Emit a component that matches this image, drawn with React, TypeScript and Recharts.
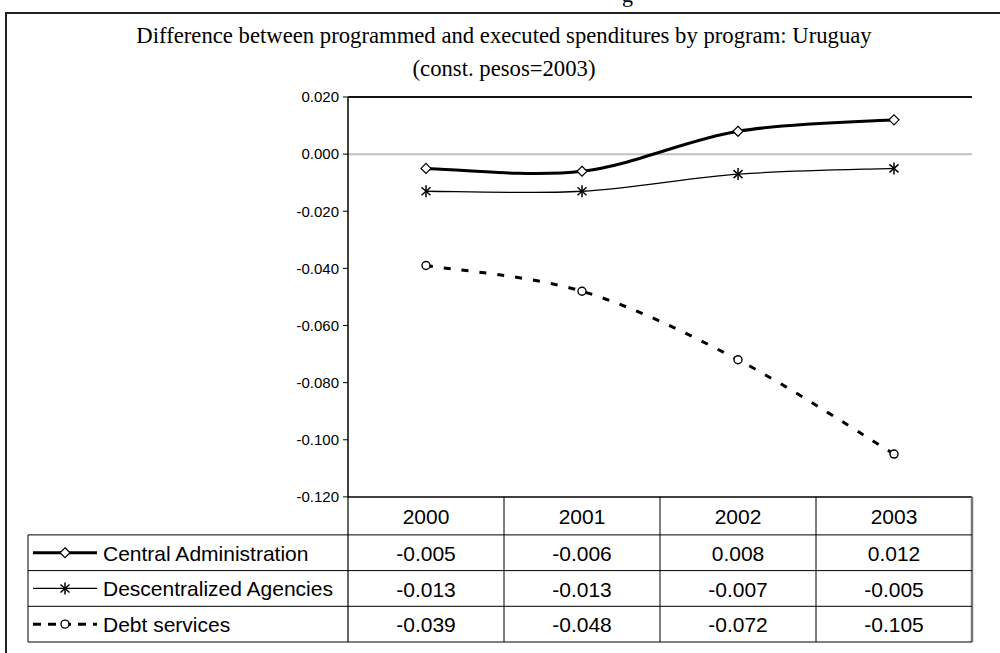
import React from "react";
import { LineChart, Line, XAxis, YAxis, ReferenceLine } from "recharts";

const years = ["2000", "2001", "2002", "2003"];
const centralAdministration = [-0.005, -0.006, 0.008, 0.012];
const descentralizedAgencies = [-0.013, -0.013, -0.007, -0.005];
const debtServices = [-0.039, -0.048, -0.072, -0.105];
const yTicks = [0.02, 0, -0.02, -0.04, -0.06, -0.08, -0.1, -0.12];
const seriesNames = ["Central Administration", "Descentralized Agencies", "Debt services"];
const seriesKeys = ["central", "descentralized", "debt"];

const data = years.map((year, i) => ({
  year,
  central: centralAdministration[i],
  descentralized: descentralizedAgencies[i],
  debt: debtServices[i],
}));

const SANS = "'Liberation Sans', Arial, sans-serif";
const SERIF = "'Liberation Serif', 'Times New Roman', serif";

const HEADER_H = 38;
const ROW_H = 35.7;
const TABLE_H = HEADER_H + ROW_H * 3;
const LEGEND_W = 320;

// Excel-style smoothed line (Catmull-Rom converted to beziers)
const excelSmooth = (context: any) => {
  let pts: number[][] = [];
  return {
    areaStart() {},
    areaEnd() {},
    lineStart() {
      pts = [];
    },
    point(x: number, y: number) {
      pts.push([+x, +y]);
    },
    lineEnd() {
      if (!pts.length) return;
      context.moveTo(pts[0][0], pts[0][1]);
      for (let i = 0; i < pts.length - 1; i++) {
        const p0 = pts[i - 1] || pts[i];
        const p1 = pts[i];
        const p2 = pts[i + 1];
        const p3 = pts[i + 2] || p2;
        context.bezierCurveTo(
          p1[0] + (p2[0] - p0[0]) / 6,
          p1[1] + (p2[1] - p0[1]) / 6,
          p2[0] - (p3[0] - p1[0]) / 6,
          p2[1] - (p3[1] - p1[1]) / 6,
          p2[0],
          p2[1]
        );
      }
    },
  };
};

const Diamond = ({ cx, cy }: any) =>
  cx == null ? null : (
    <polygon
      points={`${cx},${cy - 5} ${cx + 5},${cy} ${cx},${cy + 5} ${cx - 5},${cy}`}
      fill="#fff"
      stroke="#000"
      strokeWidth={1.2}
    />
  );

const Star = ({ cx, cy }: any) =>
  cx == null ? null : (
    <g stroke="#000" strokeWidth={1.5}>
      <line x1={cx - 4.5} y1={cy - 4} x2={cx + 4.5} y2={cy + 4} />
      <line x1={cx - 4.5} y1={cy + 4} x2={cx + 4.5} y2={cy - 4} />
      <line x1={cx} y1={cy - 6} x2={cx} y2={cy + 6} />
    </g>
  );

const Circle = ({ cx, cy }: any) =>
  cx == null ? null : <circle cx={cx} cy={cy} r={4} fill="#fff" stroke="#000" strokeWidth={1.4} />;

const seriesStyles = [
  { width: 3, dash: undefined, Marker: Diamond },
  { width: 1.3, dash: undefined, Marker: Star },
  { width: 3, dash: "7 11", Marker: Circle },
];

const TableTick = (props: any) => {
  const { x, y, payload, index } = props;
  const half = payload.offset || 78;
  const left = x - half;
  const right = x + half;
  const last = index === years.length - 1;
  const rowLines = [0, 1, 2].map((r) => y + HEADER_H + ROW_H * (r + 1));
  const values = seriesKeys.map((k) => (data[index] as any)[k] as number);
  const legLeft = left - LEGEND_W;
  return (
    <g fontFamily={SANS} fontSize={21} fill="#000">
      <text x={x} y={y + 27} textAnchor="middle">
        {payload.value}
      </text>
      <line x1={right} x2={right} y1={y} y2={y + TABLE_H} stroke={last ? "#777" : "#000"} strokeWidth={last ? 2.5 : 1} />
      {index === 0 && <line x1={left} x2={left} y1={y} y2={y + TABLE_H} stroke="#000" strokeWidth={1.2} />}
      <line x1={left} x2={right} y1={y + HEADER_H} y2={y + HEADER_H} stroke="#000" strokeWidth={1} />
      {rowLines.map((ly, r) => (
        <line key={r} x1={left} x2={right} y1={ly} y2={ly} stroke="#000" strokeWidth={1} />
      ))}
      {values.map((v, r) => (
        <text key={r} x={x} y={y + HEADER_H + ROW_H * r + 26} textAnchor="middle">
          {v.toFixed(3)}
        </text>
      ))}
      {index === 0 && (
        <g>
          <line x1={legLeft} x2={legLeft} y1={y + HEADER_H} y2={y + TABLE_H} stroke="#000" strokeWidth={1} />
          <line x1={legLeft} x2={left} y1={y + HEADER_H} y2={y + HEADER_H} stroke="#000" strokeWidth={1} />
          {rowLines.map((ly, r) => (
            <line key={r} x1={legLeft} x2={left} y1={ly} y2={ly} stroke="#000" strokeWidth={1} />
          ))}
          {seriesNames.map((name, r) => {
            const s = seriesStyles[r];
            const cy = y + HEADER_H + ROW_H * r + ROW_H / 2;
            const M = s.Marker;
            return (
              <g key={name}>
                <line
                  x1={legLeft + 5}
                  x2={legLeft + 69}
                  y1={cy}
                  y2={cy}
                  stroke="#000"
                  strokeWidth={s.width}
                  strokeDasharray={s.dash ? "8 7" : undefined}
                />
                <M cx={legLeft + 37} cy={cy} />
                <text x={legLeft + 75} y={cy + 8}>
                  {name}
                </text>
              </g>
            );
          })}
        </g>
      )}
    </g>
  );
};

export default function App() {
  return (
    <div
      style={{
        position: "fixed",
        left: 0,
        top: 0,
        width: 1000,
        height: 653,
        overflow: "hidden",
        background: "#fff",
      }}
    >
      <div style={{ position: "absolute", left: 622, top: -16, fontFamily: SERIF, fontSize: 22, lineHeight: "22px" }}>
        g
      </div>
      <div
        style={{
          position: "absolute",
          left: 5,
          top: 12,
          width: 1010,
          height: 700,
          borderTop: "2px solid #222",
          borderLeft: "2px solid #222",
        }}
      />
      <div
        style={{
          position: "absolute",
          left: 4,
          top: 19,
          width: 1000,
          textAlign: "center",
          fontFamily: SERIF,
          fontSize: 22.7,
          lineHeight: "33px",
          color: "#000",
        }}
      >
        Difference between programmed and executed spenditures by program: Uruguay
        <br />
        (const. pesos=2003)
      </div>
      <div style={{ position: "absolute", left: 0, top: 0 }}>
        <LineChart width={1000} height={653} data={data} margin={{ top: 97, right: 28, bottom: 11, left: 288 }}>
          <XAxis
            dataKey="year"
            scale="band"
            interval={0}
            height={TABLE_H}
            tickSize={0}
            tickMargin={0}
            tickLine={false}
            axisLine={{ stroke: "#000", strokeWidth: 1.5 }}
            tick={<TableTick />}
          />
          <YAxis
            yAxisId="v"
            type="number"
            domain={[-0.12, 0.02]}
            ticks={yTicks}
            width={60}
            tickSize={5}
            tickMargin={4}
            tickFormatter={(v: number) => v.toFixed(3)}
            tick={{ fill: "#000", fontSize: 15, fontFamily: SANS }}
            tickLine={{ stroke: "#000" }}
            axisLine={{ stroke: "#000", strokeWidth: 1.5 }}
          />
          <YAxis
            yAxisId="edge"
            orientation="right"
            type="number"
            domain={[-0.12, 0.02]}
            width={0}
            tick={false}
            tickLine={false}
            axisLine={{ stroke: "#555", strokeWidth: 2.5 }}
          />
          <ReferenceLine yAxisId="v" y={0.02} stroke="#111" strokeWidth={2} />
          <ReferenceLine yAxisId="v" y={0} stroke="#c0c0c0" strokeWidth={2} />
          {seriesKeys.map((k, i) => {
            const s = seriesStyles[i];
            const M = s.Marker;
            return (
              <Line
                key={k}
                yAxisId="v"
                dataKey={k}
                name={seriesNames[i]}
                type={excelSmooth as any}
                stroke="#000"
                strokeWidth={s.width}
                strokeDasharray={s.dash}
                dot={(p: any) => <M key={`${k}-${p.index}`} cx={p.cx} cy={p.cy} />}
                activeDot={false}
                isAnimationActive={false}
              />
            );
          })}
        </LineChart>
      </div>
    </div>
  );
}
